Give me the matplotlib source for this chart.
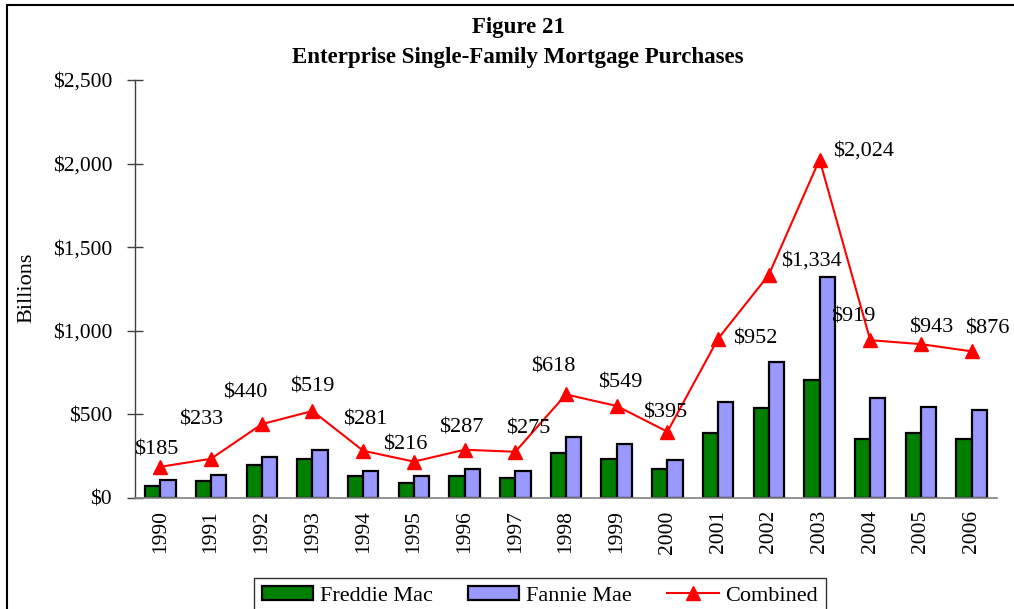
import matplotlib
matplotlib.use("Agg")
import matplotlib.pyplot as plt
import matplotlib.patches as mpatches
import numpy as np

years = [str(y) for y in range(1990, 2007)]
freddie = [73, 97, 194, 234, 127, 85, 127, 117, 266, 234, 171, 385, 534, 706, 354, 385, 354]
fannie = [105, 137, 246, 286, 159, 127, 169, 159, 363, 321, 224, 575, 810, 1320, 599, 544, 522]
combined = [185, 233, 440, 519, 281, 216, 287, 275, 618, 549, 395, 952, 1334, 2024, 943, 919, 876]
combined_labels = ["$185", "$233", "$440", "$519", "$281", "$216", "$287", "$275", "$618",
                   "$549", "$395", "$952", "$1,334", "$2,024", "$919", "$943", "$876"]
# label offsets in pixels (layout only)
label_offsets = [(-4, 17), (-10, 39), (-17, 31), (0, 24), (2, 31), (-9, 17), (-3, 22), (13, 23),
                 (-13, 27), (4, 23), (-2, 19), (37, 0), (43, 14), (44, 8), (-17, 23), (10, 16), (16, 22)]
yticks = [0, 500, 1000, 1500, 2000, 2500]
ytick_labels = ["$0", "$500", "$1,000", "$1,500", "$2,000", "$2,500"]

FONT = "Liberation Serif"
plt.rcParams['font.family'] = [FONT, 'DejaVu Serif']
FS = 16
FS_TICK = 15.5
FS_TITLE = 16.5

W, H = 1014, 609
fig = plt.figure(figsize=(W / 100, H / 100), dpi=100)
ax = fig.add_axes([135 / W, 1 - 497.7 / H, (997 - 135) / W, (497.7 - 80) / H])

x = np.arange(len(years))
bw = 0.3
b1 = ax.bar(x - bw / 2, freddie, width=bw, color="#008000", edgecolor="black", linewidth=1.6,
            label="Freddie Mac", zorder=2)
b2 = ax.bar(x + bw / 2, fannie, width=bw, color="#9999FF", edgecolor="black", linewidth=1.6,
            label="Fannie Mae", zorder=2)
l1, = ax.plot(x, combined, color="#FF0000", linewidth=1.5, marker="^", markersize=10,
              markeredgecolor="#FF0000", markerfacecolor="#FF0000", label="Combined", zorder=3)

for xi, yi, lab, off in zip(x, combined, combined_labels, label_offsets):
    ax.annotate(lab, (xi, yi), xytext=off, textcoords="offset pixels",
                ha="center", va="center", fontsize=FS, color="black", zorder=4)

ax.set_xlim(-0.5, len(years) - 0.5)
ax.set_ylim(0, 2500)
ax.set_yticks(yticks)
ax.set_yticklabels(ytick_labels, fontsize=FS_TICK)
ax.set_xticks(x)
ax.set_xticklabels(years, rotation=90, fontsize=FS_TICK)
ax.tick_params(axis="y", direction="inout", length=11, width=1, color="#404040", pad=11)
ax.tick_params(axis="x", length=0, pad=9)

for s in ["top", "right"]:
    ax.spines[s].set_visible(False)
ax.spines["left"].set_color("#404040")
ax.spines["bottom"].set_color("#808080")
ax.spines["left"].set_linewidth(1)
ax.spines["bottom"].set_linewidth(1.2)

fig.text(27 / W, 1 - 288 / H, "Billions", rotation=90, ha="center", va="center", fontsize=FS)
fig.text(518 / W, 1 - 27 / H, "Figure 21", ha="center", va="center", fontsize=FS_TITLE,
         fontweight="bold")
fig.text(518 / W, 1 - 57 / H, "Enterprise Single-Family Mortgage Purchases", ha="center",
         va="center", fontsize=FS_TITLE, fontweight="bold")

leg = fig.legend(handles=[b1, b2, l1], labels=["Freddie Mac", "Fannie Mae", "Combined"],
                 loc="upper center", bbox_to_anchor=(540 / W, 1 - 567 / H), ncol=3,
                 fontsize=FS, frameon=True, fancybox=False, edgecolor="black",
                 handlelength=2.3, handleheight=0.6, columnspacing=1.6, borderpad=0.35,
                 handletextpad=0.3)
leg.get_frame().set_linewidth(1.0)

frame = mpatches.Rectangle((7 / W, -0.1), 1.2, 1 - 5 / H + 0.1, transform=fig.transFigure,
                           fill=False, edgecolor="black", linewidth=1.5, clip_on=False)
fig.patches.append(frame)

fig.savefig("out.png", dpi=100)
